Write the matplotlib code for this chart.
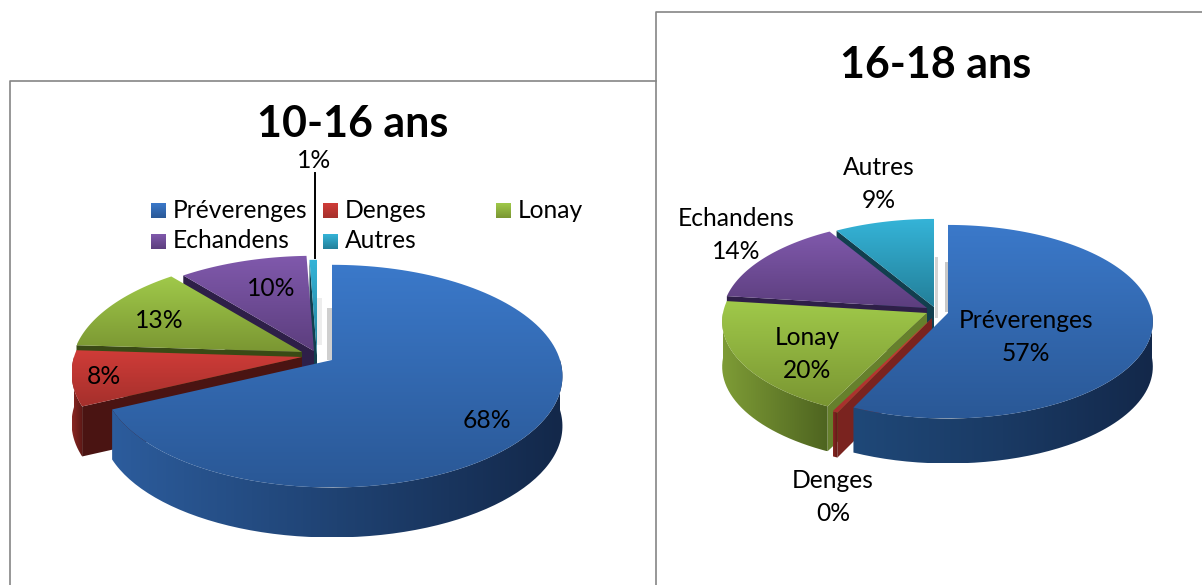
import numpy as np
import matplotlib
matplotlib.use('Agg')
import matplotlib.pyplot as plt
from matplotlib.path import Path
from matplotlib.colors import LinearSegmentedColormap

plt.rcParams['font.family'] = ['Lato', 'DejaVu Sans']

# Data
categories = ['Préverenges', 'Denges', 'Lonay', 'Echandens', 'Autres']
values_10_16 = [68, 8, 13, 10.4, 0.6]
values_16_18 = [57, 0.4, 19.6, 14.4, 8.6]

# Slice styles: top face (light, dark), outer wall (left to right), cut wall
top_cols = [('#3B79CA', '#2A5896'), ('#D03C38', '#A5302C'), ('#A0C94A', '#7A9632'),
            ('#8059AC', '#5C3E7E'), ('#35B4D8', '#237F99')]
wall_left = [('#2C5C9C', '#1F4272', '#13284A'), ('#8A2723', '#5A1815'), ('#7E9C36', '#4E6420'),
             ('#4A3268', '#2E1F48'), ('#1E6A80', '#123F4E')]
wall_right = [('#1F4878', '#1A3A64', '#13284A'), ('#8A2723', '#5A1815'), ('#7E9C36', '#4E6420'),
              ('#4A3268', '#2E1F48'), ('#1E6A80', '#123F4E')]
cut_left = ['#1A3A66', '#4A1412', '#3A4A15', '#2E1F48', '#123F4E']
cut_right = ['#1A3A66', '#7A231F', '#66802C', '#2E1F48', '#123F4E']

W, H = 1202, 585
fig = plt.figure(figsize=(W / 100, H / 100), dpi=100)
ax = fig.add_axes([0, 0, 1, 1])
ax.axis('off')


def grad_fill(poly, cols, vertical=True, z=2):
    poly = np.asarray(poly)
    x0, y0 = poly.min(axis=0)
    x1, y1 = poly.max(axis=0)
    cmap = LinearSegmentedColormap.from_list('g', list(cols))
    g = np.linspace(0, 1, 128)
    arr = g[:, None] if vertical else g[None, :]
    im = ax.imshow(arr, cmap=cmap, extent=(x0, x1, y1, y0), aspect='auto',
                   interpolation='bilinear', zorder=z, vmin=0, vmax=1)
    path = Path(np.vstack([poly, poly[:1]]))
    im.set_clip_path(path, ax.transData)


def project(t, apex, rx, ry, k):
    u, v = np.sin(t), np.cos(t)
    f = 1 + k * v
    return np.column_stack([apex[0] + rx * u / f, apex[1] - ry * v / f])


def pie3d(values, apexes, rx, ry, k, depth, z0, cut_cols, wall_cols):
    fr = np.cumsum([0] + list(values)) / sum(values) * 2 * np.pi
    # back to front: blue last
    for z, i in enumerate([4, 3, 2, 1, 0]):
        zz = z0 + z * 4
        t0, t1 = fr[i], fr[i + 1]
        apex = np.array(apexes[i], float)
        ts = np.linspace(t0, t1, 120)
        arc = project(ts, apex, rx, ry, k)
        down = np.array([0, depth])
        # cut walls facing the viewer
        if np.sin(t0) < -1e-3:
            p = arc[0]
            q = [apex, p, p + down, apex + down]
            ax.fill(*zip(*q), color=cut_cols[i], lw=0, zorder=zz)
        if np.sin(t1) > 1e-3:
            p = arc[-1]
            q = [apex, p, p + down, apex + down]
            ax.fill(*zip(*q), color=cut_cols[i], lw=0, zorder=zz)
        # outer wall
        a, b = max(t0, np.pi / 2), min(t1, 1.5 * np.pi)
        if b > a:
            tw = np.linspace(a, b, 120)
            rim = project(tw, apex, rx, ry, k)
            wall = np.vstack([rim, rim[::-1] + down])
            grad_fill(wall, wall_cols[i], vertical=False, z=zz + 1)
        # top face
        top = np.vstack([apex, arc])
        grad_fill(top, top_cols[i], z=zz + 2)


# Grey shadows behind the exploded slices
ax.fill([327, 332, 332, 327], [308, 308, 360, 360], color='#CFCFCF', lw=0, zorder=1)
ax.fill([310, 322, 322, 310], [298, 298, 345, 345], color='#EDEDED', lw=0, zorder=1)
ax.fill([935, 938, 938, 935], [257, 257, 318, 318], color='#D4D4D4', lw=0, zorder=1)
ax.fill([945, 948, 948, 945], [262, 262, 312, 312], color='#C8C8C8', lw=0, zorder=1)

pie3d(values_10_16, [(332, 360), (302, 357), (302, 352), (314, 351), (317, 355)],
      228, 109, 0.145, 50, 10, cut_left, wall_left)
pie3d(values_16_18, [(948, 313), (932, 318), (927, 313), (927, 308), (934, 307)],
      204, 96, 0.09, 45, 50, cut_right, wall_right)

# Frames
frame = '#858585'
ax.plot([10, 10, 656], [H, 81, 81], color=frame, lw=1.2, zorder=5)
ax.plot([656, 656, W], [H, 12, 12], color=frame, lw=1.2, zorder=5)

# Titles
ax.text(353, 124, '10-16 ans', ha='center', va='center', fontsize=31, fontweight='bold', zorder=90)
ax.text(936, 65, '16-18 ans', ha='center', va='center', fontsize=31, fontweight='bold', zorder=90)

# Legend of the left chart
lx = [151, 323, 496, 151, 323]
ly = [203, 203, 203, 234, 234]
for i, name in enumerate(categories):
    sq = [(lx[i], ly[i]), (lx[i] + 15, ly[i]), (lx[i] + 15, ly[i] + 15), (lx[i], ly[i] + 15)]
    grad_fill(sq, top_cols[i], z=90)
    ax.text(lx[i] + 22, ly[i] + 7, name, ha='left', va='center', fontsize=17.7, zorder=90)

# Labels, left chart
ax.plot([315, 315], [173, 258], color='black', lw=1.4, zorder=90)
lab_pos_l = [(487, 420), (104, 376), (159, 321), (271, 288), (314, 160)]
for v, (x, y) in zip(values_10_16, lab_pos_l):
    ax.text(x, y, f'{round(v)}%', ha='center', va='center', fontsize=17.7, zorder=90)

# Labels, right chart
lab_pos_r = [(1026, 337), (833, 497), (807, 354), (736, 235), (879, 184)]
for name, v, (x, y) in zip(categories, values_16_18, lab_pos_r):
    ax.text(x, y, f'{name}\n{round(v)}%', ha='center', va='center', fontsize=17.7,
            linespacing=1.5, zorder=90)

ax.set_xlim(0, W)
ax.set_ylim(H, 0)
fig.savefig('out.png', dpi=100)
